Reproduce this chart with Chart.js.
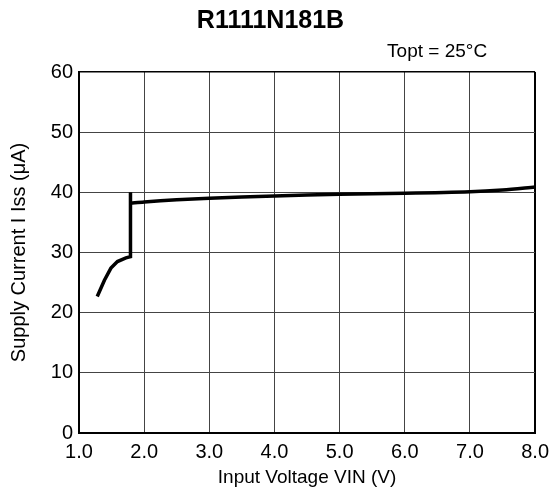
<!DOCTYPE html>
<html>
<head>
<meta charset="utf-8">
<script src="https://cdn.jsdelivr.net/npm/chart.js@4.4.1/dist/chart.umd.min.js"></script>
<style>
html,body{margin:0;padding:0;background:#fff;}
#wrap{width:556px;height:490px;position:relative;}
</style>
</head>
<body>
<div id="wrap"><canvas id="c" width="556" height="490"></canvas></div>
<script>
const lowVin = [1.28, 1.39, 1.49, 1.59, 1.72, 1.79, 1.79];
const lowIss = [22.7, 25.4, 27.4, 28.5, 29.1, 29.3, 40.0];
const highVin = [1.79, 2.0, 2.5, 3.0, 4.0, 5.0, 6.0, 7.0, 7.5, 8.0];
const highIss = [38.2, 38.4, 38.75, 39.0, 39.4, 39.7, 39.85, 40.1, 40.4, 40.9];
const xTicks = [1, 2, 3, 4, 5, 6, 7, 8];
const yTicks = [0, 10, 20, 30, 40, 50, 60];

const toPts = (xs, ys) => xs.map((x, i) => ({x: x, y: ys[i]}));

const FONT = "'Liberation Sans', Arial, sans-serif";

const noteText = {
  id: 'noteText',
  afterDraw(chart) {
    const ctx = chart.ctx;
    const a = chart.chartArea;
    ctx.save();
    ctx.font = "19px " + FONT;
    ctx.fillStyle = '#000';
    ctx.textAlign = 'right';
    ctx.textBaseline = 'alphabetic';
    ctx.fillText('Topt = 25°C', a.right - 48, 57);
    ctx.restore();
  }
};

new Chart(document.getElementById('c'), {
  type: 'line',
  data: {
    datasets: [
      {data: toPts(lowVin, lowIss), borderColor: '#000', borderWidth: 3.5, pointRadius: 0, tension: 0, fill: false},
      {data: toPts(highVin, highIss), borderColor: '#000', borderWidth: 3.5, pointRadius: 0, tension: 0.3, fill: false}
    ]
  },
  options: {
    responsive: false,
    animation: false,
    devicePixelRatio: 1,
    layout: {padding: {left: 0, right: 15, top: 0, bottom: 0}},
    plugins: {
      legend: {display: false},
      tooltip: {enabled: false},
      title: {
        display: true,
        text: 'R1111N181B',
        color: '#000',
        font: {family: FONT, size: 25, weight: 'bold'},
        padding: {top: 6, bottom: 36}
      }
    },
    scales: {
      x: {
        type: 'linear',
        min: 1, max: 8,
        afterBuildTicks: (s) => { s.ticks = xTicks.map(v => ({value: v})); },
        afterFit: (s) => { s.height = 57; },
        ticks: {
          color: '#000',
          font: {family: FONT, size: 20},
          padding: 7,
          maxRotation: 0,
          callback: (v) => Number(v).toFixed(1)
        },
        grid: {
          drawTicks: false,
          color: (c) => (c.tick && (c.tick.value === 8)) ? '#000' : '#444',
          lineWidth: (c) => (c.tick && (c.tick.value === 8)) ? 2 : 1
        },
        border: {color: '#000', width: 2},
        title: {
          display: true,
          text: 'Input Voltage VIN (V)',
          color: '#000',
          font: {family: FONT, size: 19},
          padding: {top: 0, bottom: 1}
        }
      },
      y: {
        type: 'linear',
        min: 0, max: 60,
        afterBuildTicks: (s) => { s.ticks = yTicks.map(v => ({value: v})); },
        afterFit: (s) => { s.width = 79; },
        ticks: {
          color: '#000',
          font: {family: FONT, size: 20},
          padding: 6
        },
        grid: {
          drawTicks: false,
          color: (c) => (c.tick && (c.tick.value === 60)) ? '#000' : '#444',
          lineWidth: (c) => (c.tick && (c.tick.value === 60)) ? 1.5 : 1
        },
        border: {color: '#000', width: 2},
        title: {
          display: true,
          text: 'Supply Current I Iss (μA)',
          color: '#000',
          font: {family: FONT, size: 20},
          padding: {top: 7, bottom: 4}
        }
      }
    }
  },
  plugins: [noteText]
});
</script>
</body>
</html>
